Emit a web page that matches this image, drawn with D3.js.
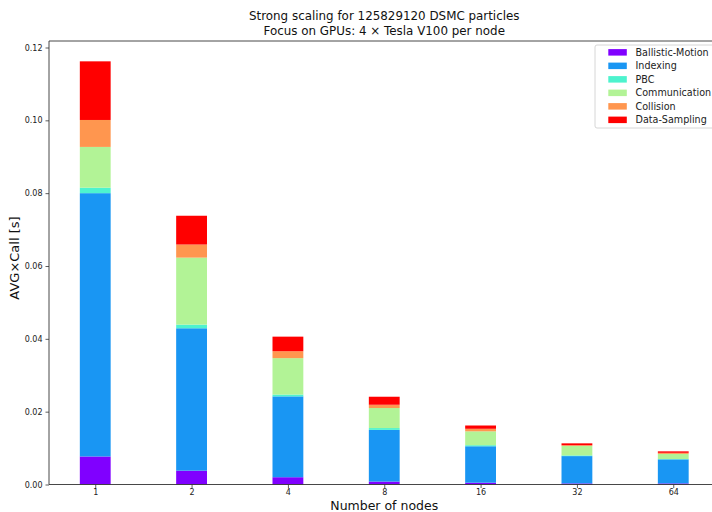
<!DOCTYPE html>
<html>
<head>
<meta charset="utf-8">
<script src="https://cdn.jsdelivr.net/npm/d3@7"></script>
<style>
  html, body { margin: 0; padding: 0; background: #fff; overflow: hidden; }
  svg { display: block; font-family: "DejaVu Sans", sans-serif; }
</style>
</head>
<body>
<svg id="chart" width="712" height="512"></svg>
<script>
// Node counts on the x axis
const nodes = ["1", "2", "4", "8", "16", "32", "64"];

// Per-phase average time per call [s], one array per phase
const ballisticMotion = [0.0077, 0.0038, 0.0020, 0.0008, 0.0005, 0.0003, 0.0003];
const indexing        = [0.0723, 0.0391, 0.0222, 0.0142, 0.0100, 0.0075, 0.0066];
const pbc             = [0.0015, 0.0010, 0.0005, 0.0005, 0.0003, 0.0002, 0.0001];
const communication   = [0.0112, 0.0184, 0.0100, 0.0055, 0.0038, 0.0026, 0.0014];
const collision       = [0.0074, 0.0036, 0.0019, 0.0009, 0.0007, 0.0002, 0.0003];
const dataSampling    = [0.0161, 0.0079, 0.0040, 0.0022, 0.0009, 0.0005, 0.0004];

const phaseNames  = ["Ballistic-Motion", "Indexing", "PBC", "Communication", "Collision", "Data-Sampling"];
const phaseColors = ["#8000ff", "#1996f3", "#4df3ce", "#b2f396", "#ff964f", "#ff0000"];
const yTicks = [0, 0.02, 0.04, 0.06, 0.08, 0.10, 0.12];

const series = [ballisticMotion, indexing, pbc, communication, collision, dataSampling];

// Rows for the stack layout
const rows = nodes.map((n, i) => {
  const r = { node: n, idx: i };
  phaseNames.forEach((p, k) => { r[p] = series[k][i]; });
  return r;
});
const stacked = d3.stack().keys(phaseNames)(rows);

const svg = d3.select("#chart");
const plot = { left: 49, right: 719.5, top: 41, bottom: 484.5 };

const x = d3.scaleLinear().domain([-0.48, 6.48]).range([plot.left, plot.right]);
const y = d3.scaleLinear().domain([0, 0.12]).range([plot.bottom, 47.5]);
const barWidth = 0.32;

// Stacked bars
svg.append("g")
  .selectAll("g")
  .data(stacked)
  .join("g")
  .attr("fill", (d, k) => phaseColors[k])
  .selectAll("rect")
  .data(d => d)
  .join("rect")
  .attr("x", d => x(d.data.idx - barWidth / 2))
  .attr("width", d => x(barWidth) - x(0))
  .attr("y", d => y(d[1]))
  .attr("height", d => y(d[0]) - y(d[1]));

// Frame (left, top, bottom spines)
const frame = svg.append("g").attr("stroke", "#333").attr("stroke-width", 0.9).attr("fill", "none");
frame.append("line").attr("x1", plot.left).attr("x2", plot.left).attr("y1", plot.top).attr("y2", plot.bottom);
frame.append("line").attr("x1", plot.left).attr("x2", plot.right).attr("y1", plot.top).attr("y2", plot.top);
frame.append("line").attr("x1", plot.left).attr("x2", plot.right).attr("y1", plot.bottom).attr("y2", plot.bottom);

// Y axis
const yAxis = svg.append("g")
  .attr("transform", `translate(${plot.left},0)`)
  .call(d3.axisLeft(y).tickValues(yTicks).tickFormat(d3.format(".2f")).tickSize(3.5).tickPadding(3));
yAxis.select(".domain").remove();
yAxis.selectAll("line").attr("stroke", "#333").attr("stroke-width", 0.8);
yAxis.selectAll("text").attr("font-size", 8).attr("fill", "#222").attr("font-family", "DejaVu Sans");

// X axis
const xAxis = svg.append("g")
  .attr("transform", `translate(0,${plot.bottom})`)
  .call(d3.axisBottom(x).tickValues(d3.range(nodes.length)).tickFormat(i => nodes[i]).tickSize(3.5).tickPadding(1.5));
xAxis.select(".domain").remove();
xAxis.selectAll("line").attr("stroke", "#333").attr("stroke-width", 0.8);
xAxis.selectAll("text").attr("font-size", 8).attr("fill", "#222").attr("font-family", "DejaVu Sans");

// Axis titles
svg.append("text")
  .attr("x", (plot.left + plot.right) / 2).attr("y", 510)
  .attr("text-anchor", "middle").attr("font-size", 12.5).attr("fill", "#111")
  .text("Number of nodes");
svg.append("text")
  .attr("transform", `translate(18.5,258) rotate(-90)`)
  .attr("text-anchor", "middle").attr("font-size", 13).attr("fill", "#111")
  .text("AVG×Call [s]");

// Title
const title = svg.append("text").attr("text-anchor", "middle").attr("font-size", 11.9).attr("fill", "#111");
title.append("tspan").attr("x", (plot.left + plot.right) / 2).attr("y", 20).text("Strong scaling for 125829120 DSMC particles");
title.append("tspan").attr("x", (plot.left + plot.right) / 2).attr("y", 35).text("Focus on GPUs: 4 × Tesla V100 per node");

// Legend
const legend = svg.append("g").attr("transform", "translate(595,45)");
legend.append("rect")
  .attr("x", 0).attr("y", 0).attr("width", 122).attr("height", 83).attr("rx", 2)
  .attr("fill", "#fff").attr("fill-opacity", 0.85).attr("stroke", "#ccc").attr("stroke-width", 0.8);
const items = legend.selectAll("g.item").data(phaseNames).join("g")
  .attr("class", "item")
  .attr("transform", (d, i) => `translate(0,${7.3 + i * 13.5})`);
items.append("rect").attr("x", 13.3).attr("y", -3.2).attr("width", 18.5).attr("height", 6.5)
  .attr("fill", (d, i) => phaseColors[i]);
items.append("text").attr("x", 40.5).attr("y", 3.6).attr("font-size", 9.6).attr("fill", "#222").text(d => d);
</script>
</body>
</html>
